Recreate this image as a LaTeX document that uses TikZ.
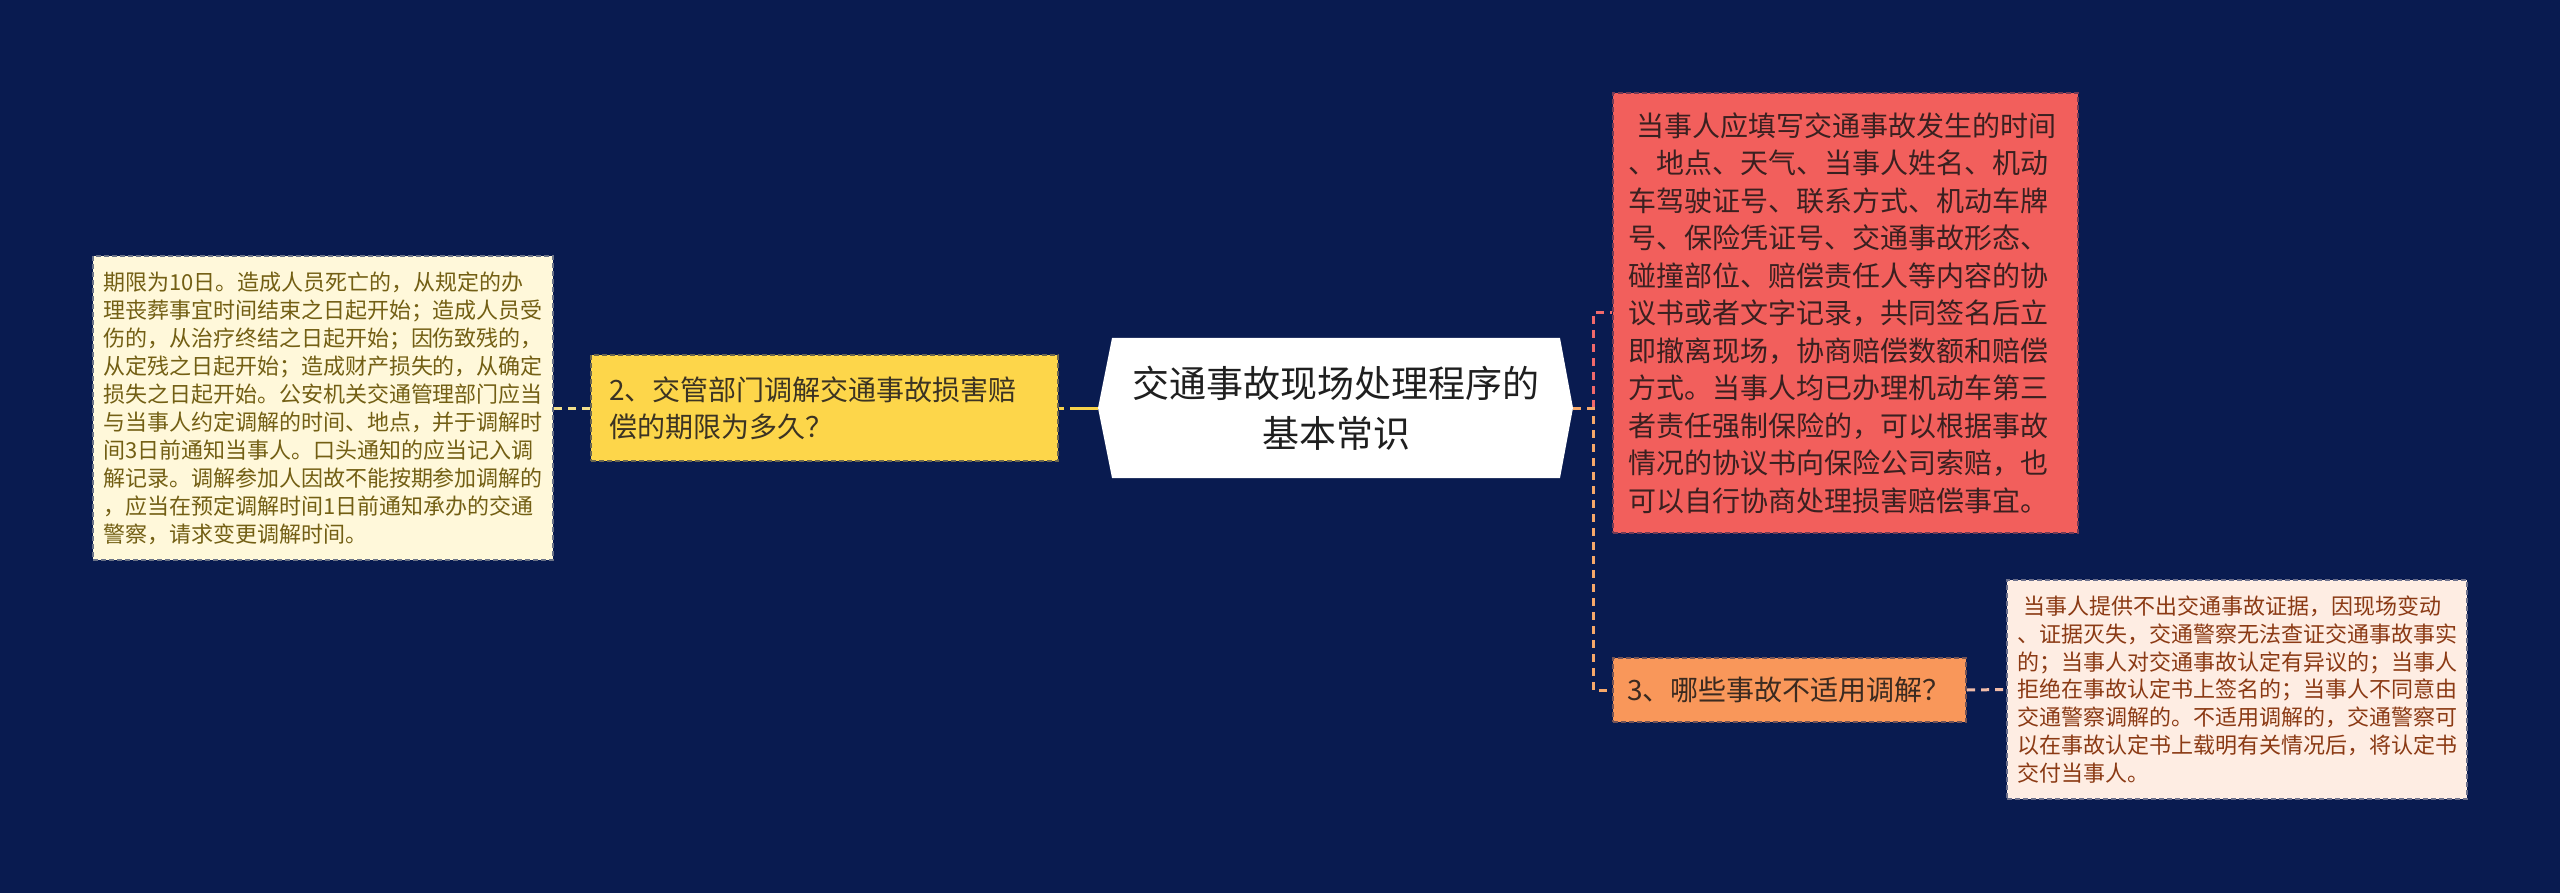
\documentclass[tikz,border=0pt]{standalone}
\usepackage{fontspec}
\newfontfamily\cjk{Noto Sans CJK SC}
\definecolor{bg}{RGB}{9,27,80}
\definecolor{creamfill}{RGB}{255,248,218}
\definecolor{creamtext}{RGB}{115,95,20}
\definecolor{yellowfill}{RGB}{253,214,74}
\definecolor{yellowtext}{RGB}{59,51,35}
\definecolor{redfill}{RGB}{242,95,92}
\definecolor{redtext}{RGB}{58,32,32}
\definecolor{orangefill}{RGB}{249,151,90}
\definecolor{orangetext}{RGB}{58,42,32}
\definecolor{peachfill}{RGB}{254,237,227}
\definecolor{peachtext}{RGB}{139,58,20}
\definecolor{roottext}{RGB}{31,31,31}
\definecolor{leftconn}{RGB}{242,223,140}
\definecolor{yellowconn}{RGB}{247,210,75}
\definecolor{redconn}{RGB}{240,105,107}
\definecolor{orangeconn}{RGB}{246,168,106}
\definecolor{peachconn}{RGB}{241,188,168}
\tikzset{
  boxbase/.style={align=left, inner ysep=0pt, line width=1pt, dash pattern=on 2.5pt off 1.5pt},
  leftbox/.style={boxbase, fill=creamfill, draw=bg!60!creamfill, text=creamtext,
    font=\cjk\fontsize{11}{14}\selectfont, text width=220pt, inner xsep=5pt, minimum height=152pt},
  yellowbox/.style={boxbase, fill=yellowfill, draw=bg!60!yellowfill, text=yellowtext,
    font=\cjk\fontsize{14}{18.5}\selectfont, text width=215.5pt, inner xsep=9pt, minimum height=53pt},
  redbox/.style={boxbase, fill=redfill, draw=bg!55!redfill, text=redtext,
    font=\cjk\fontsize{14}{18.75}\selectfont, text width=217.5pt, inner xsep=7.5pt, minimum height=220pt},
  orangebox/.style={boxbase, fill=orangefill, draw=bg!55!orangefill, text=orangetext,
    font=\cjk\fontsize{14}{18}\selectfont, text width=162.5pt, inner xsep=7pt, minimum height=32pt},
  peachbox/.style={boxbase, fill=peachfill, draw=bg!60!peachfill, text=peachtext,
    font=\cjk\fontsize{11}{13.9}\selectfont, text width=220pt, inner xsep=5pt, minimum height=109.5pt},
  rootlabel/.style={align=center, text=roottext, font=\cjk\fontsize{18.5}{25}\selectfont},
  conn/.style={line width=1.5pt, dash pattern=on 4pt off 3pt},
}
\begin{document}
\begin{tikzpicture}[x=0.5pt,y=-0.5pt]
\fill[bg] (0,0) rectangle (2560,893);
\useasboundingbox (0,0) rectangle (2560,893);

% central hexagon
\coordinate (hl) at (1098,408);
\coordinate (hr) at (1573,408);
\coordinate (htl) at (1112,338);
\coordinate (htr) at (1560,338);
\coordinate (hbl) at (1112,478);
\coordinate (hbr) at (1560,478);
\fill[white] (hl) -- (htl) -- (htr) -- (hr) -- (hbr) -- (hbl) -- cycle;
\node[rootlabel] (root) at (1336,408) {交通事故现场处理程序的\\基本常识};

% boxes
\node[leftbox] (detail2) at (323,408) {期限为10日。造成人员死亡的，从规定的办\\理丧葬事宜时间结束之日起开始；造成人员受\\伤的，从治疗终结之日起开始；因伤致残的，\\从定残之日起开始；造成财产损失的，从确定\\损失之日起开始。公安机关交通管理部门应当\\与当事人约定调解的时间、地点，并于调解时\\间3日前通知当事人。口头通知的应当记入调\\解记录。调解参加人因故不能按期参加调解的\\，应当在预定调解时间1日前通知承办的交通\\警察，请求变更调解时间。};

\node[yellowbox] (q2) at (824.5,408) {2、交管部门调解交通事故损害赔\\偿的期限为多久？};

\node[redbox] (detail1) at (1845.5,313) {\hspace*{0.3em}当事人应填写交通事故发生的时间\\、地点、天气、当事人姓名、机动\\车驾驶证号、联系方式、机动车牌\\号、保险凭证号、交通事故形态、\\碰撞部位、赔偿责任人等内容的协\\议书或者文字记录，共同签名后立\\即撤离现场，协商赔偿数额和赔偿\\方式。当事人均已办理机动车第三\\者责任强制保险的，可以根据事故\\情况的协议书向保险公司索赔，也\\可以自行协商处理损害赔偿事宜。};

\node[orangebox] (q3) at (1789.5,690) {3、哪些事故不适用调解？};

\node[peachbox] (detail3) at (2237,689.5) {\hspace*{0.3em}当事人提供不出交通事故证据，因现场变动\\、证据灭失，交通警察无法查证交通事故事实\\的；当事人对交通事故认定有异议的；当事人\\拒绝在事故认定书上签名的；当事人不同意由\\交通警察调解的。不适用调解的，交通警察可\\以在事故认定书上载明有关情况后，将认定书\\交付当事人。};

% connectors
\coordinate (jr) at (1593,408);
\draw[conn, leftconn] (q2.west) -- (detail2.east);
\draw[line width=1.5pt, yellowconn, dash pattern=on 14pt off 3pt] (hl) -- (q2.east);
\draw[conn, redconn] (jr) |- (detail1.west);
\draw[conn, orangeconn] (hr) -- (jr) |- (q3.west);
\draw[conn, peachconn] (q3.east) -- (detail3.west);
\end{tikzpicture}
\end{document}
